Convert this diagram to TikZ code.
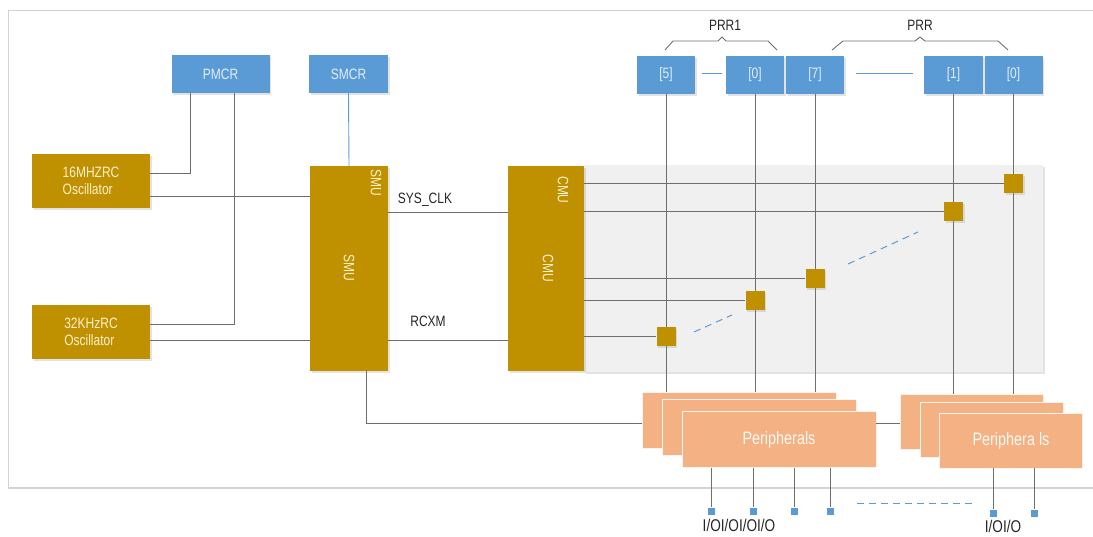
\documentclass[tikz,border=0pt]{standalone}
\usepackage{fontspec}
\setmainfont{Liberation Sans}[FakeStretch=0.8]
\usetikzlibrary{positioning,shadows}
\definecolor{gold}{HTML}{BF9000}
\definecolor{goldtxt}{HTML}{FFF2CC}
\definecolor{regblue}{HTML}{5B9BD5}
\definecolor{regtxt}{HTML}{E2EEF9}
\definecolor{peach}{HTML}{F4B183}
\definecolor{panel}{HTML}{F0F0F0}
\definecolor{wirecol}{HTML}{6E6E6E}
\definecolor{framecol}{HTML}{D3D3D3}
\definecolor{dashblue}{HTML}{5B9BD5}

\tikzset{
  softshadow/.style={drop shadow={shadow xshift=1.5pt, shadow yshift=-2pt, opacity=0.22}},
  regbox/.style={fill=regblue, text=regtxt, minimum height=38, minimum width=58, inner sep=0pt, softshadow},
  goldbox/.style={fill=gold, text=goldtxt, inner sep=0pt, softshadow},
  perbox/.style={fill=peach, draw=white!85!peach, line width=0.8pt, text=white!92!peach,
    minimum width=194, minimum height=56, inner sep=0pt, font=\fontsize{18}{20}\selectfont},
  tapsq/.style={fill=gold, minimum size=19, inner sep=0pt, softshadow},
  pinsq/.style={fill=regblue, minimum size=7, inner sep=0pt},
  wire/.style={wirecol, line width=0.9pt},
  bracket/.style={wirecol, line width=0.9pt},
  sig/.style={text=black!85, inner sep=0pt},
  vlabel/.style={text=goldtxt, rotate=-90, inner sep=0pt},
  dotted link/.style={dashblue, line width=1pt, dash pattern=on 7pt off 5pt}
}

\begin{document}
\begin{tikzpicture}[x=1pt, y=-1pt, font=\fontsize{15}{17}\selectfont]
  \useasboundingbox (0,0) rectangle (1093,536);
  % outer frame
  \draw[framecol, line width=0.8pt] (1093,10) -- (8,10) -- (8,488);
  \draw[framecol, line width=2pt, softshadow] (8,488) -- (1093,488);

  % registers and clock units
  \node[regbox, minimum width=98] (pmcr) at (220.5,74) {PMCR};
  \node[regbox, minimum width=79] (smcr) at (348.5,74) {SMCR};
  \node[goldbox, minimum width=118, minimum height=54, align=left] (osc16) at (91,181) {16MHZRC\\Oscillator};
  \node[goldbox, minimum width=118, minimum height=54, align=left] (osc32) at (91,332) {32KHzRC\\Oscillator};
  \node[goldbox, minimum width=78, minimum height=205] (smu) at (349,268.5) {};
  \node[vlabel] at (376,183) {SMU};
  \node[vlabel] at (349,268) {SMU};

  \node[fill=panel, minimum width=459, minimum height=207, inner sep=0pt, softshadow] (mesh) at (813.5,268.5) {};
  \node[goldbox, minimum width=76, minimum height=205] (cmu) at (546,268.5) {};
  \node[vlabel] at (563,190) {CMU};
  \node[vlabel] at (548,268) {CMU};

  % peripheral enable registers
  \node[regbox] (r5) at (666,74.5) {[5]};
  \node[regbox] (r0a) at (755,74.5) {[0]};
  \node[regbox] (r7) at (815,74.5) {[7]};
  \node[regbox, minimum width=59] (r1) at (953.5,74.5) {[1]};
  \node[regbox] (r0b) at (1013.5,74.5) {[0]};
  \draw[regblue, line width=1.5pt] (r5.east) ++(7,-1) coordinate (d1) -- ++(20,0);
  \draw[regblue, line width=1.5pt] (r7.east) ++(12,-1) coordinate (d2) -- ++(57,0);
  \draw[bracket] (665,50) -- (673,41) -- (718,41) -- (722,37) -- (726,41) -- (768,41) -- (777,50);
  \draw[bracket] (832,50) -- (843,41) -- (915,41) -- (920,37) -- (925,41) -- (998,41) -- (1008,50);
  \node[sig] (prr1) at (725,25) {PRR1};
  \node[sig] (prr) at (920,25) {PRR};

  % peripherals
  \node[perbox] (perA1) at (739,420) {};
  \node[perbox] (perA2) at (759.5,427.5) {};
  \node[perbox] (perA3) at (779,439.5) {Peripherals};
  \node[perbox, minimum width=143, minimum height=55] (perB1) at (971.5,421.5) {};
  \node[perbox, minimum width=143, minimum height=55] (perB2) at (991.5,429.5) {};
  \node[perbox, minimum width=143, minimum height=55] (perB3) at (1011,440.5) {Periphera ls};

  % clock wiring
  \draw[wire] (osc16.east |- 0,173) -| (pmcr.south -| 190,0);
  \draw[wire] (osc16.east |- 0,196) -- (smu.west |- 0,196);
  \draw[wire] (pmcr.south -| 234,0) |- (osc32.east |- 0,324);
  \draw[wire] (osc32.east |- 0,340) -- (smu.west |- 0,340);
  \draw[regblue, line width=0.9pt] (smcr.south) -- (smu.north);
  \draw[wire] (smu.east |- 0,212) -- (cmu.west |- 0,212);
  \node[sig] (sysclk) at (425,200) {SYS\_CLK};
  \draw[wire] (smu.east |- 0,340) -- (cmu.west |- 0,340);
  \node[sig] (rcxm) at (428,321) {RCXM};
  \draw[wire] ([xshift=17]smu.south) |- (perA1.west |- 0,423);
  \draw[wire] (perA3.east |- 0,423) -- (perB1.west |- 0,423);

  % enable taps
  \foreach \r/\p in {r5/perA1, r0a/perA1, r7/perA1, r1/perB1, r0b/perB1}
    \draw[wire] (\r.south) -- (\r.south |- \p.north);
  \node[tapsq] (sq0b) at (1013.5,183) {};
  \node[tapsq] (sq1) at (953.5,211) {};
  \node[tapsq] (sq7) at (815,278) {};
  \node[tapsq] (sq0a) at (755,300) {};
  \node[tapsq] (sq5) at (666,336) {};
  \foreach \s in {sq0b, sq1, sq7, sq0a, sq5}
    \draw[wire] (cmu.east |- \s) -- (\s.west);
  \draw[dotted link] (848,264) -- (918,232);
  \draw[dotted link] (694,332) -- (732,315);

  % I/O pins
  \foreach \n/\x in {p1/711, p2/753, p3/794, p4/830} {
    \node[pinsq] (\n) at (\x,511) {};
    \draw[wire] (perA3.south -| \n) -- (\n.north);
  }
  \foreach \n/\x in {p5/993, p6/1034} {
    \node[pinsq] (\n) at (\x,513) {};
    \draw[wire] (perB3.south -| \n) -- (\n.north);
  }
  \draw[dotted link] (857,503) -- (976,503);
  \node[sig, font=\fontsize{17}{19}\selectfont] (io1) at (739,525) {I/OI/OI/OI/O};
  \node[sig, font=\fontsize{17}{19}\selectfont] (io2) at (1003,526) {I/OI/O};
\end{tikzpicture}
\end{document}
